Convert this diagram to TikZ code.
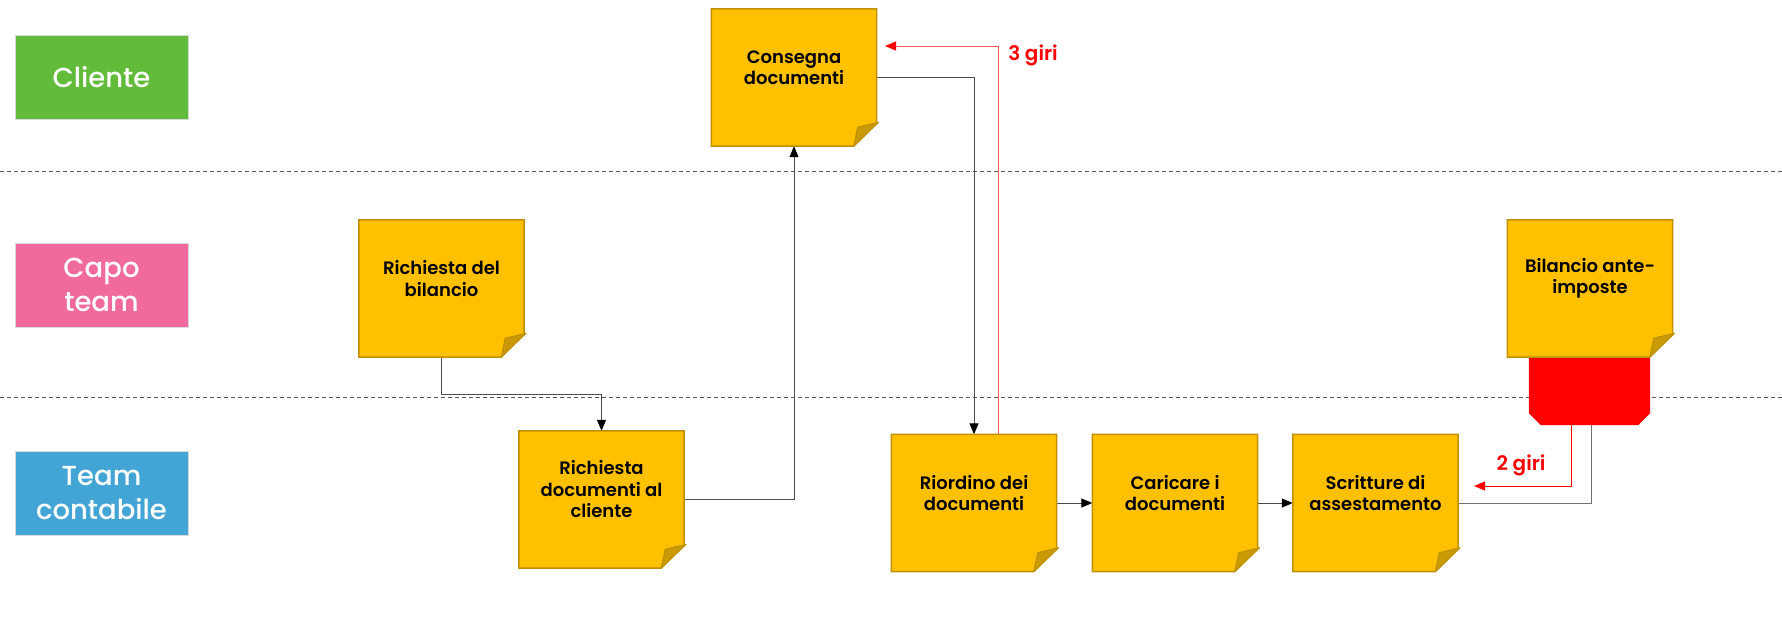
\documentclass[tikz,border=0pt]{standalone}
\usepackage{fontspec}
\setmainfont{Poppins Medium}
\newfontfamily\strongfont{Poppins SemiBold}
\usetikzlibrary{arrows.meta,calc}
\pgfdeclarelayer{background}
\pgfsetlayers{background,main}

\definecolor{notefill}{HTML}{FFC000}
\definecolor{noteedge}{HTML}{BF9000}
\definecolor{notefold}{HTML}{C99A06}
\definecolor{lanegreen}{HTML}{62BB39}
\definecolor{lanepink}{HTML}{F06A9E}
\definecolor{laneblue}{HTML}{42A5D5}
\definecolor{linegray}{HTML}{4D4D4D}
\definecolor{softred}{HTML}{FF5A5A}

% sticky note: name, centre, text
\newcommand\stickynote[3]{%
  \node[notebox] (#1) at (#2) {};
  \filldraw[fill=notefill, draw=noteedge, line width=1.5pt]
    (#1.north west) -- (#1.north east) -- ([yshift=23pt]#1.south east)
    -- ([xshift=-23pt]#1.south east) -- (#1.south west) -- cycle;
  \filldraw[fill=notefold, draw=noteedge, line width=1pt, line join=round]
    ([xshift=-23pt]#1.south east) -- ([xshift=2pt,yshift=24pt]#1.south east)
    -- ([xshift=-19pt,yshift=19pt]#1.south east) -- cycle;
  \node[notetext] (#1-text) at ([yshift=10pt]#1.center) {#3};
}

\begin{document}
\begin{tikzpicture}[x=1pt,y=-1pt,
  lane/.style={minimum width=173pt, minimum height=84pt, inner sep=0pt,
    draw=black!15, line width=0.6pt, text=white, align=center,
    font=\fontsize{27.5}{34}\selectfont},
  notebox/.style={minimum width=165pt, minimum height=137pt, inner sep=0pt},
  notetext/.style={align=center, inner sep=0pt,
    font=\strongfont\fontsize{18}{21.5}\selectfont},
  lanesep/.style={draw=black!65, dash pattern=on 4pt off 3pt, line width=1pt},
  flow/.style={draw=linegray, line width=1pt,
    -{Triangle[length=11pt,width=9pt,color=black]}},
  plainflow/.style={draw=linegray!80, line width=1pt},
  loopthin/.style={draw=softred, line width=1pt,
    -{Triangle[length=11pt,width=9pt,color=red]}},
  loopbold/.style={draw=red, line width=1pt,
    -{Triangle[length=11pt,width=9pt,color=red]}},
  loopnote/.style={text=red, inner sep=0pt,
    font=\strongfont\fontsize{20}{24}\selectfont}
]
\useasboundingbox (0,0) rectangle (1782,630);

% swimlane titles
\node[lane, fill=lanegreen] (client) at (101.5,77) {Cliente};
\node[lane, fill=lanepink] (lead) at (101.5,285) {Capo\\team};
\node[lane, fill=laneblue] (team) at (101.5,493) {Team\\contabile};

% lane separators
\coordinate (sepA-l) at (0,171);
\coordinate (sepA-r) at (1782,171);
\coordinate (sepB-l) at (0,397);
\coordinate (sepB-r) at (1782,397);
\begin{pgfonlayer}{background}
  \draw[lanesep] (sepA-l) -- (sepA-r);
  \draw[lanesep] (sepB-l) -- (sepB-r);
\end{pgfonlayer}

% red tab under the final note
\node[minimum width=121pt, minimum height=68pt, inner sep=0pt] (flag) at (1589.5,391) {};
\fill[red] (flag.north west) -- (flag.north east) -- ([yshift=12pt]flag.south east)
  -- ([xshift=-12pt]flag.south east) -- ([xshift=12pt]flag.south west)
  -- ([yshift=12pt]flag.south west) -- cycle;

% process steps
\stickynote{handover}{794,77.5}{Consegna\\documenti}
\stickynote{bilreq}{441.5,288.5}{Richiesta del\\bilancio}
\stickynote{docreq}{601.5,499.5}{Richiesta\\documenti al\\cliente}
\stickynote{reorder}{974,503}{Riordino dei\\documenti}
\stickynote{upload}{1175,503}{Caricare i\\documenti}
\stickynote{adjust}{1375.5,503}{Scritture di\\assestamento}
\stickynote{pretax}{1590,288.5}{Bilancio ante-\\imposte}

% rework loops
\coordinate (turn3) at (998,46);
\coordinate (tip3) at (885,46);
\coordinate (turn2) at (1571,486);
\coordinate (tip2) at (1474,486);
\node[loopnote] (loop3) at (1033,55) {3 giri};
\node[loopnote] (loop2) at (1521,465) {2 giri};

\begin{pgfonlayer}{background}
  \draw[flow] (bilreq.south) -- ++(0,37) -| (docreq.north);
  \draw[flow] (docreq.east) -| (handover.south);
  \draw[flow] (handover.east) -| (reorder.north);
  \draw[flow] (reorder.east) -- (upload.west);
  \draw[flow] (upload.east) -- (adjust.west);
  \draw[plainflow] (adjust.east) -| ([xshift=1.5pt]flag.south);
  \draw[loopthin] ([xshift=24pt]reorder.north) -- (turn3) -- (tip3);
  \draw[loopbold] (flag.south -| turn2) -- (turn2) -- (tip2);
\end{pgfonlayer}
\end{tikzpicture}
\end{document}
